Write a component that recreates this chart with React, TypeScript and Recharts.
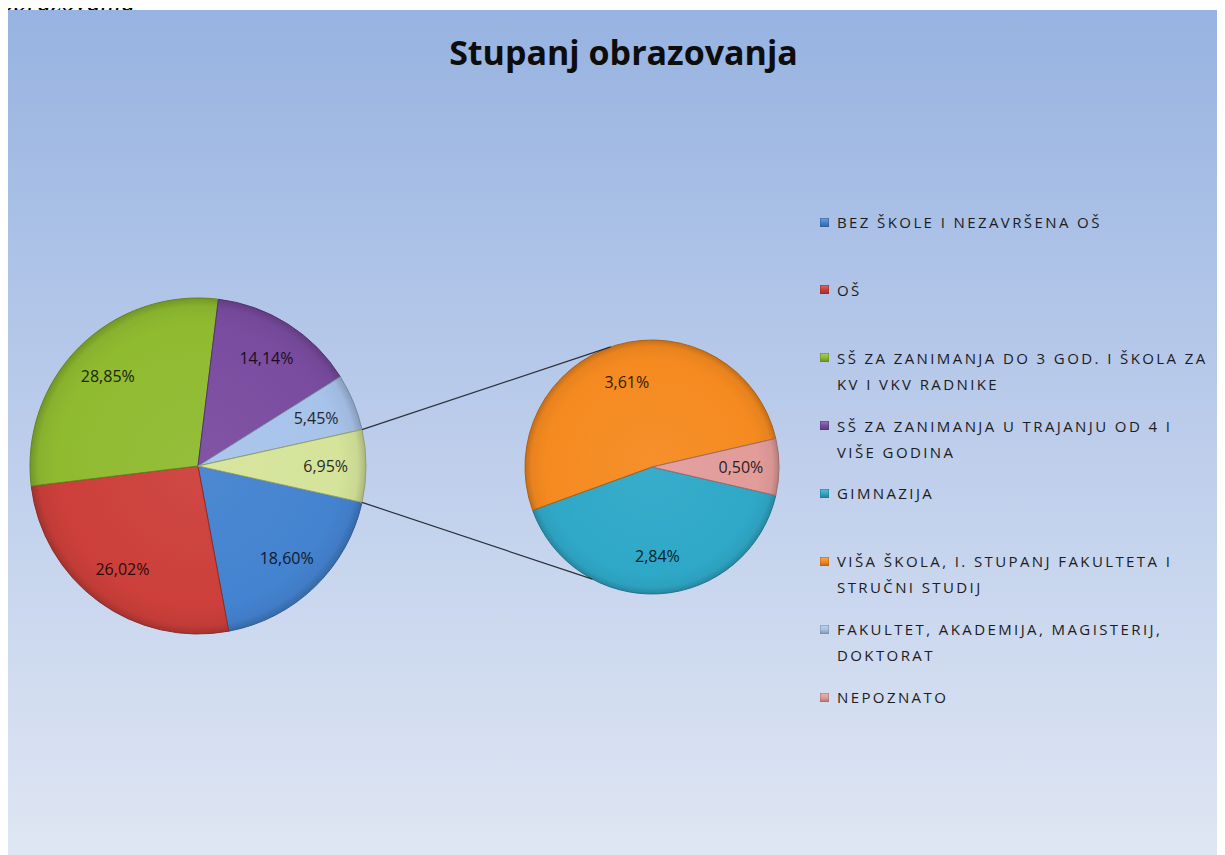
import React from 'react';
import { PieChart, Pie, Cell } from 'recharts';

// ---- data ----
const categories = [
  'BEZ ŠKOLE I NEZAVRŠENA OŠ',
  'OŠ',
  'SŠ ZA ZANIMANJA DO 3 GOD. I ŠKOLA ZA KV I VKV RADNIKE',
  'SŠ ZA ZANIMANJA U TRAJANJU OD 4 I VIŠE GODINA',
  'GIMNAZIJA',
  'VIŠA ŠKOLA, I. STUPANJ FAKULTETA I STRUČNI STUDIJ',
  'FAKULTET, AKADEMIJA, MAGISTERIJ, DOKTORAT',
  'NEPOZNATO',
];
const shares = [18.6, 26.02, 28.85, 14.14, 2.84, 3.61, 5.45, 0.5];
const secondaryNames = [
  'GIMNAZIJA',
  'VIŠA ŠKOLA, I. STUPANJ FAKULTETA I STRUČNI STUDIJ',
  'NEPOZNATO',
];
const otherName = 'Ostalo';
const title = 'Stupanj obrazovanja';
const pageCaption = 'obrazovanja';

// ---- styles ----
const COLORS: Record<string, string> = {
  'BEZ ŠKOLE I NEZAVRŠENA OŠ': '#4483d0',
  'OŠ': '#cc3f3a',
  'SŠ ZA ZANIMANJA DO 3 GOD. I ŠKOLA ZA KV I VKV RADNIKE': '#8fbb30',
  'SŠ ZA ZANIMANJA U TRAJANJU OD 4 I VIŠE GODINA': '#7a4ca0',
  'GIMNAZIJA': '#2fa8c8',
  'VIŠA ŠKOLA, I. STUPANJ FAKULTETA I STRUČNI STUDIJ': '#f58a20',
  'FAKULTET, AKADEMIJA, MAGISTERIJ, DOKTORAT': '#a8c3ea',
  'NEPOZNATO': '#e29c9a',
  'Ostalo': '#d5e49a',
};

const W = 1217;
const H = 845;
const MAIN = { cx: 190, cy: 456, r: 168 };
const SEC = { cx: 644, cy: 457, r: 127 };
const CONNECT_TOP = 109;
const CONNECT_BOTTOM = -118;
const FONT = '"Open Sans", "Noto Sans", sans-serif';

const RAD = Math.PI / 180;
const polar = (cx: number, cy: number, r: number, a: number) => ({
  x: cx + r * Math.cos(-a * RAD),
  y: cy + r * Math.sin(-a * RAD),
});

function shade(hex: string, amt: number) {
  const n = parseInt(hex.slice(1), 16);
  const rgb = [n >> 16, (n >> 8) & 255, n & 255];
  const f = (c: number) => (amt >= 0 ? Math.round(c + (255 - c) * amt) : Math.round(c * (1 + amt)));
  return `rgb(${rgb.map(f).join(',')})`;
}

const mainData = [
  ...categories
    .filter((c) => !secondaryNames.includes(c))
    .map((c) => ({ name: c, value: shares[categories.indexOf(c)] })),
  {
    name: otherName,
    value: secondaryNames.reduce((s, c) => s + shares[categories.indexOf(c)], 0),
  },
];
const secData = secondaryNames.map((c) => ({ name: c, value: shares[categories.indexOf(c)] }));

const mainTotal = mainData.reduce((s, d) => s + d.value, 0);
const secTotal = secData.reduce((s, d) => s + d.value, 0);
const mainStart = -(mainData[mainData.length - 1].value / mainTotal) * 180;
const secStart = -(secData[secData.length - 1].value / secTotal) * 180;

const fmt = (v: number) => v.toFixed(2).replace('.', ',') + '%';

const gradId = (name: string) => 'g' + categories.concat([otherName]).indexOf(name);

const makeLabel = (factor: number) => (props: any) => {
  const { cx, cy, midAngle, outerRadius, value, payload, startAngle, endAngle } = props;
  const name = payload?.name ?? props.name;
  const p = polar(cx, cy, outerRadius * factor, midAngle);
  const col = shade(COLORS[name], -0.8);
  let connectors = null;
  if (name === otherName) {
    const a = polar(cx, cy, outerRadius, Math.max(startAngle, endAngle));
    const b = polar(cx, cy, outerRadius, Math.min(startAngle, endAngle));
    const t = polar(SEC.cx, SEC.cy, SEC.r, CONNECT_TOP);
    const u = polar(SEC.cx, SEC.cy, SEC.r, CONNECT_BOTTOM);
    connectors = (
      <g>
        <line x1={a.x} y1={a.y} x2={t.x} y2={t.y} stroke="#2b2f3a" strokeWidth={1.2} />
        <line x1={b.x} y1={b.y} x2={u.x} y2={u.y} stroke="#2b2f3a" strokeWidth={1.2} />
      </g>
    );
  }
  return (
    <g>
      {connectors}
      <text
        x={p.x}
        y={p.y}
        textAnchor="middle"
        dominantBaseline="central"
        fill={col}
        fontSize={16}
        fontFamily={FONT}
      >
        {fmt(value)}
      </text>
    </g>
  );
};

const Gradients = ({ data, geo }: { data: { name: string }[]; geo: { cx: number; cy: number; r: number } }) => (
  <>
    {data.map((d) => {
      const c = COLORS[d.name];
      return (
        <radialGradient
          key={d.name}
          id={gradId(d.name)}
          gradientUnits="userSpaceOnUse"
          cx={geo.cx}
          cy={geo.cy}
          r={geo.r}
        >
          <stop offset="0%" stopColor={shade(c, 0.05)} />
          <stop offset="84%" stopColor={c} />
          <stop offset="95%" stopColor={shade(c, -0.05)} />
          <stop offset="100%" stopColor={shade(c, -0.2)} />
        </radialGradient>
      );
    })}
  </>
);

export default function App() {
  return (
    <div style={{ position: 'relative', paddingTop: 2 }}>
      <style>{`html{overflow:hidden}`}</style>
      <div
        style={{
          position: 'absolute',
          left: -8,
          top: -19,
          fontFamily: '"Liberation Serif", "DejaVu Serif", serif',
          fontStyle: 'italic',
          fontSize: 27,
          lineHeight: '27px',
          color: '#000',
          whiteSpace: 'nowrap',
        }}
      >
        {pageCaption}
      </div>
      <div
        style={{
          position: 'relative',
          width: W,
          height: H,
          background: 'linear-gradient(to bottom, #97b3e1 0%, #bccdeb 50%, #dfe6f3 100%)',
          overflow: 'hidden',
        }}
      >
        <div
          style={{
            position: 'absolute',
            left: 7,
            top: 25,
            width: W,
            textAlign: 'center',
            fontFamily: FONT,
            fontWeight: 700,
            fontSize: 34,
            lineHeight: '34px',
            color: '#0d0d0d',
          }}
        >
          {title}
        </div>
        <div style={{ position: 'absolute', left: 0, top: 0 }}>
          <PieChart width={W} height={H} margin={{ top: 0, right: 0, bottom: 0, left: 0 }}>
            <defs>
              <Gradients data={mainData} geo={MAIN} />
              <Gradients data={secData} geo={SEC} />
            </defs>
            <Pie
              data={mainData}
              dataKey="value"
              nameKey="name"
              cx={MAIN.cx}
              cy={MAIN.cy}
              outerRadius={MAIN.r}
              startAngle={mainStart}
              endAngle={mainStart - 360}
              isAnimationActive={false}
              label={makeLabel(0.76)}
              labelLine={false}
            >
              {mainData.map((d) => (
                <Cell key={d.name} fill={`url(#${gradId(d.name)})`} stroke={shade(COLORS[d.name], -0.3)} strokeWidth={1} />
              ))}
            </Pie>
            <Pie
              data={secData}
              dataKey="value"
              nameKey="name"
              cx={SEC.cx}
              cy={SEC.cy}
              outerRadius={SEC.r}
              startAngle={secStart}
              endAngle={secStart - 360}
              isAnimationActive={false}
              label={makeLabel(0.7)}
              labelLine={false}
            >
              {secData.map((d) => (
                <Cell key={d.name} fill={`url(#${gradId(d.name)})`} stroke={shade(COLORS[d.name], -0.3)} strokeWidth={1} />
              ))}
            </Pie>
          </PieChart>
        </div>
        <div style={{ position: 'absolute', left: 812, top: 199 }}>
          {categories.map((c) => (
            <div key={c} style={{ height: 67.86, display: 'flex', alignItems: 'flex-start' }}>
              <span
                style={{
                  flex: '0 0 9px',
                  width: 9,
                  height: 9,
                  marginTop: 8.5,
                  marginRight: 8,
                  background: `linear-gradient(to bottom, ${shade(COLORS[c], 0.25)}, ${COLORS[c]} 50%, ${shade(COLORS[c], -0.25)})`,
                  boxShadow: `inset 0 0 0 0.5px ${shade(COLORS[c], -0.3)}`,
                }}
              />
              <span
                style={{
                  width: 380,
                  fontFamily: FONT,
                  fontSize: 15,
                  lineHeight: '26px',
                  letterSpacing: 2.4,
                  color: '#1c1c22',
                }}
              >
                {c}
              </span>
            </div>
          ))}
        </div>
      </div>
    </div>
  );
}
